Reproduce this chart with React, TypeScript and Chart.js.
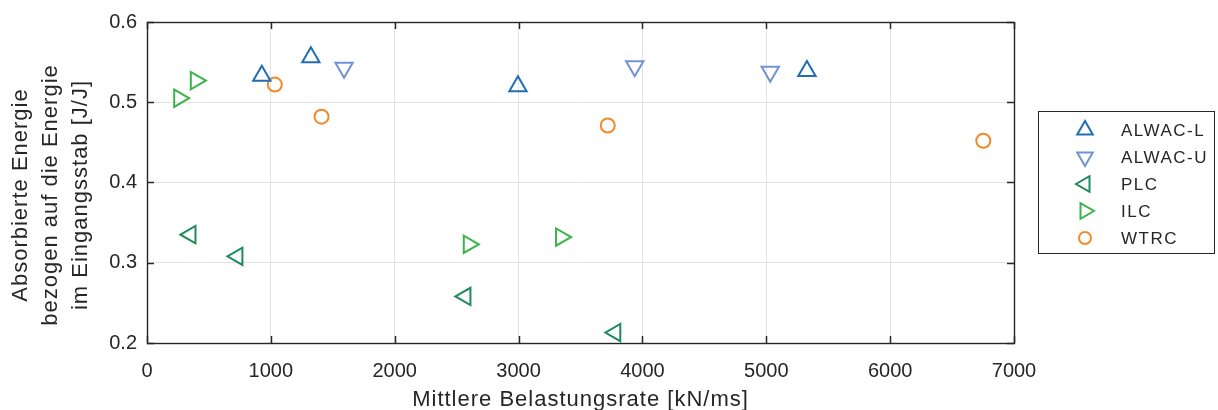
import React, { useEffect, useRef } from 'react';
import { Chart, registerables } from 'chart.js';
import { drawPoint } from 'chart.js/helpers';

Chart.register(...registerables);

// ---- data ----
const SERIES_NAMES = ['ALWAC-L', 'ALWAC-U', 'PLC', 'ILC', 'WTRC'];
const ALWAC_L_X = [927, 1323, 2995, 5328];
const ALWAC_L_Y = [0.533, 0.556, 0.52, 0.539];
const ALWAC_U_X = [1591, 3938, 5032];
const ALWAC_U_Y = [0.543, 0.545, 0.538];
const PLC_X = [351, 730, 2571, 3781];
const PLC_Y = [0.335, 0.308, 0.258, 0.213];
const ILC_X = [260, 394, 2598, 3343];
const ILC_Y = [0.505, 0.527, 0.323, 0.332];
const WTRC_X = [1032, 1409, 3720, 6752];
const WTRC_Y = [0.522, 0.482, 0.471, 0.452];

const X_TICKS = [0, 1000, 2000, 3000, 4000, 5000, 6000, 7000];
const X_TICK_LABELS = ['0', '1000', '2000', '3000', '4000', '5000', '6000', '7000'];
const Y_TICKS = [0.2, 0.3, 0.4, 0.5, 0.6];
const Y_TICK_LABELS = ['0.2', '0.3', '0.4', '0.5', '0.6'];
const X_TITLE = 'Mittlere Belastungsrate [kN/ms]';
const Y_TITLE = ['Absorbierte Energie', 'bezogen auf die Energie', 'im Eingangsstab [J/J]'];

// ---- styles ----
const COLORS = ['#1f6db5', '#7093d2', '#1f8a5a', '#3bb54a', '#f08a2c'];
const STYLES = ['triangle', 'triangle', 'triangle', 'triangle', 'circle'];
const ROTATIONS = [0, 180, 270, 90, 0];
const RADII = [10, 10, 10, 10, 7];
const FONT = '"Liberation Sans", Arial, Helvetica, sans-serif';
const TEXT = '#262626';

const zip = (xs: number[], ys: number[]) => xs.map((x, i) => ({ x, y: ys[i] }));
const SERIES_DATA = [
  zip(ALWAC_L_X, ALWAC_L_Y),
  zip(ALWAC_U_X, ALWAC_U_Y),
  zip(PLC_X, PLC_Y),
  zip(ILC_X, ILC_Y),
  zip(WTRC_X, WTRC_Y),
];

const decor = {
  id: 'decor',
  beforeDatasetsDraw(chart: any) {
    const { ctx, chartArea: a, scales } = chart;
    ctx.save();
    ctx.strokeStyle = TEXT;
    ctx.lineWidth = 1.5;
    const line = (x1: number, y1: number, x2: number, y2: number) => {
      ctx.beginPath();
      ctx.moveTo(x1, y1);
      ctx.lineTo(x2, y2);
      ctx.stroke();
    };
    for (const v of X_TICKS) {
      const px = Math.round(scales.x.getPixelForValue(v)) + 0.5;
      line(px, a.bottom, px, a.bottom - 7);
      line(px, a.top, px, a.top + 7);
    }
    for (const v of Y_TICKS) {
      const py = Math.round(scales.y.getPixelForValue(v)) + 0.5;
      line(a.left, py, a.left + 7, py);
      line(a.right, py, a.right - 7, py);
    }
    ctx.lineWidth = 1.4;
    ctx.strokeRect(Math.round(a.left) + 0.5, Math.round(a.top) + 0.5, Math.round(a.right - a.left), Math.round(a.bottom - a.top));
    ctx.restore();
  },
  afterDraw(chart: any) {
    const { ctx, chartArea: a } = chart;
    ctx.save();
    ctx.fillStyle = TEXT;
    // x title
    ctx.font = `22px ${FONT}`;
    (ctx as any).letterSpacing = '1px';
    ctx.textAlign = 'center';
    ctx.textBaseline = 'alphabetic';
    ctx.fillText(X_TITLE, (a.left + a.right) / 2, 406);
    // y title
    ctx.save();
    ctx.translate(0, 195);
    ctx.rotate(-Math.PI / 2);
    const baselines = [27, 57, 87];
    Y_TITLE.forEach((t, i) => ctx.fillText(t, 0, baselines[i]));
    ctx.restore();
    // legend
    const bx = 1038.5, by = 111.5, bw = 176, bh = 142;
    ctx.fillStyle = '#ffffff';
    ctx.fillRect(bx, by, bw, bh);
    ctx.strokeStyle = TEXT;
    ctx.lineWidth = 1;
    ctx.strokeRect(bx, by, bw, bh);
    ctx.font = `17px ${FONT}`;
    (ctx as any).letterSpacing = '1.5px';
    ctx.textAlign = 'left';
    ctx.textBaseline = 'middle';
    SERIES_NAMES.forEach((name, i) => {
      const y = 130 + i * 27;
      ctx.strokeStyle = COLORS[i];
      ctx.fillStyle = 'rgba(0,0,0,0)';
      ctx.lineWidth = 2;
      drawPoint(ctx, { pointStyle: STYLES[i], rotation: ROTATIONS[i], radius: RADII[i] - 1, borderWidth: 2 } as any, 1085, y);
      ctx.fillStyle = TEXT;
      ctx.fillText(name, 1121, y + 1);
    });
    ctx.restore();
  },
};

export default function App() {
  const ref = useRef<HTMLCanvasElement>(null);
  useEffect(() => {
    if (!ref.current) return;
    const chart = new Chart(ref.current, {
      type: 'scatter',
      data: {
        datasets: SERIES_NAMES.map((name, i) => ({
          label: name,
          data: SERIES_DATA[i],
          pointStyle: STYLES[i] as any,
          pointRotation: ROTATIONS[i],
          pointRadius: RADII[i],
          pointBorderWidth: 2,
          pointBorderColor: COLORS[i],
          pointBackgroundColor: 'rgba(0,0,0,0)',
          borderColor: COLORS[i],
          backgroundColor: 'rgba(0,0,0,0)',
          showLine: false,
        })),
      },
      options: {
        responsive: false,
        animation: false,
        devicePixelRatio: 1,
        events: [],
        layout: { padding: { left: 0, top: 22, right: 204, bottom: 0 } },
        plugins: { legend: { display: false }, tooltip: { enabled: false } },
        scales: {
          x: {
            type: 'linear',
            min: 0,
            max: 7000,
            afterBuildTicks: (s: any) => { s.ticks = X_TICKS.map((v) => ({ value: v })); },
            afterFit: (s: any) => { s.height = 67; },
            grid: { color: '#e2e2e2', lineWidth: 1, drawTicks: false },
            border: { display: false },
            ticks: {
              padding: 16,
              color: TEXT,
              font: { family: FONT, size: 20 },
              maxRotation: 0,
              callback: (v: any) => X_TICK_LABELS[X_TICKS.indexOf(Number(v))] ?? String(v),
            },
          },
          y: {
            type: 'linear',
            min: 0.2,
            max: 0.6,
            afterBuildTicks: (s: any) => { s.ticks = Y_TICKS.map((v) => ({ value: v })); },
            afterFit: (s: any) => { s.width = 147; },
            grid: { color: '#e2e2e2', lineWidth: 1, drawTicks: false },
            border: { display: false },
            ticks: {
              padding: 10,
              color: TEXT,
              font: { family: FONT, size: 20 },
              callback: (v: any, i: number) => Y_TICK_LABELS[i] ?? Number(v).toFixed(1),
            },
          },
        },
      },
      plugins: [decor],
    });
    return () => chart.destroy();
  }, []);
  return (
    <div style={{ position: 'fixed', left: 0, top: 0, width: 1218, height: 410, background: '#fff' }}>
      <canvas ref={ref} width={1218} height={410} style={{ width: 1218, height: 410, display: 'block' }} />
    </div>
  );
}
